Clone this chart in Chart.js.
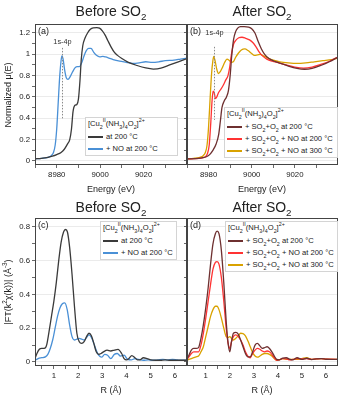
<!DOCTYPE html>
<html>
<head>
<meta charset="utf-8">
<script src="https://cdn.jsdelivr.net/npm/chart.js@4.4.1/dist/chart.umd.min.js"></script>
<style>
  body { margin: 0; background: #fff; font-family: "Liberation Sans", Arial, sans-serif; color: #222; }
  #fig { position: relative; width: 340px; height: 397px; overflow: hidden; }
  canvas { position: absolute; }
  .t { position: absolute; white-space: nowrap; transform: translate(-50%, -50%); }
  .title { font-size: 14px; }
  .axt { font-size: 9px; }
  .ylab { transform: translate(-50%, -50%) rotate(-90deg); }
  .leg { position: absolute; background: #fff; border: 1px solid #d4d4d4; font-size: 7.6px;
         box-sizing: border-box; padding: 0 2px; color: #222; }
  .leg div { height: 12px; line-height: 12px; white-space: nowrap; }
  .leg div:first-child { height: 13px; }
  .leg .sw { display: inline-block; width: 15px; height: 1.5px; vertical-align: middle; margin-right: 3px; }
  sub, sup { font-size: 70%; line-height: 0; }
</style>
</head>
<body>
<div id="fig"></div>
<script>
// ── Data ─────────────────────────────────────────────────────────────────────

// (a) XANES before SO2
const energyA_black = [8970, 8973, 8976, 8978, 8980, 8982, 8983.5, 8985, 8986, 8986.8, 8987.5, 8988.3, 8989.3, 8990, 8990.7, 8991.3, 8992, 8993, 8994.2, 8995.5, 8996.8, 8998.5, 8999.7, 9001, 9002.3, 9003.5, 9005, 9006.5, 9008, 9010, 9013, 9017, 9021, 9024.5, 9028, 9032, 9036, 9040];
const muA_black     = [0.02, 0.025, 0.035, 0.045, 0.06, 0.08, 0.11, 0.16, 0.2, 0.3, 0.46, 0.52, 0.53, 0.58, 0.75, 0.95, 1.08, 1.15, 1.2, 1.235, 1.248, 1.25, 1.245, 1.22, 1.18, 1.13, 1.07, 1.02, 0.99, 0.96, 0.925, 0.895, 0.872, 0.862, 0.87, 0.9, 0.93, 0.96];

const energyA_blue = [8970, 8973, 8976, 8977.5, 8978.5, 8979.3, 8980, 8980.7, 8981.4, 8982, 8982.4, 8982.9, 8983.6, 8984.4, 8985.2, 8986.2, 8987.3, 8988.5, 8989.5, 8990.5, 8991.5, 8992.5, 8993.5, 8994.7, 8995.8, 8997, 8998.3, 8999.8, 9001.3, 9002.5, 9004, 9006, 9009, 9012, 9015, 9018, 9021, 9024, 9027, 9030, 9034, 9037, 9040];
const muA_blue     = [0.02, 0.025, 0.035, 0.05, 0.08, 0.15, 0.3, 0.55, 0.8, 0.94, 0.985, 0.96, 0.86, 0.78, 0.765, 0.79, 0.835, 0.875, 0.885, 0.885, 0.92, 0.98, 1.03, 1.055, 1.055, 1.02, 0.99, 0.975, 0.98, 0.975, 0.965, 0.95, 0.935, 0.925, 0.915, 0.92, 0.93, 0.925, 0.93, 0.94, 0.945, 0.955, 0.965];

// (b) XANES after SO2
const energyB_maroon = [8970, 8974, 8977, 8979, 8980.5, 8982, 8983.5, 8984.7, 8985.5, 8986.2, 8987.2, 8988.3, 8989.2, 8990, 8990.8, 8991.6, 8992.5, 8993.5, 8994.8, 8996.5, 8998.5, 9000, 9001.5, 9003, 9004.5, 9006, 9008, 9010.5, 9013.5, 9017, 9021, 9024.5, 9028, 9032, 9036, 9040];
const muB_maroon     = [0.02, 0.022, 0.03, 0.04, 0.06, 0.1, 0.16, 0.25, 0.38, 0.5, 0.56, 0.6, 0.66, 0.8, 1.0, 1.14, 1.21, 1.245, 1.26, 1.26, 1.255, 1.24, 1.2, 1.12, 1.05, 1.0, 0.96, 0.935, 0.915, 0.89, 0.868, 0.86, 0.868, 0.895, 0.93, 0.975];

const energyB_red = [8970, 8974, 8977, 8978.5, 8979.5, 8980.3, 8981, 8981.6, 8982.1, 8982.6, 8983.2, 8983.8, 8984.6, 8985.6, 8986.8, 8988, 8989, 8989.8, 8990.6, 8991.5, 8992.6, 8994, 8995.5, 8997.2, 8999, 9000.5, 9002, 9003.5, 9005, 9007, 9009.5, 9012.5, 9016, 9020, 9024, 9028, 9032, 9036, 9040];
const muB_red     = [0.02, 0.022, 0.03, 0.04, 0.07, 0.15, 0.35, 0.56, 0.655, 0.64, 0.585, 0.6, 0.64, 0.67, 0.71, 0.76, 0.8, 0.88, 1.0, 1.09, 1.13, 1.155, 1.16, 1.15, 1.135, 1.11, 1.07, 1.02, 0.985, 0.955, 0.935, 0.92, 0.9, 0.88, 0.87, 0.88, 0.905, 0.935, 0.975];

const energyB_orange = [8970, 8973, 8976, 8977.5, 8978.5, 8979.3, 8980, 8980.7, 8981.4, 8982, 8982.4, 8983, 8983.8, 8984.6, 8985.5, 8986.5, 8987.5, 8988.5, 8989.5, 8990.5, 8991.5, 8992.5, 8993.8, 8995.2, 8996.8, 8998.3, 8999.8, 9001.3, 9002.7, 9004, 9005.5, 9007.5, 9010, 9013, 9017, 9021, 9025, 9029, 9033, 9037, 9040];
const muB_orange     = [0.02, 0.025, 0.035, 0.05, 0.08, 0.15, 0.32, 0.58, 0.82, 0.94, 0.98, 0.94, 0.86, 0.82, 0.84, 0.88, 0.925, 0.955, 0.945, 0.925, 0.93, 0.97, 1.01, 1.04, 1.05, 1.035, 1.01, 0.99, 0.995, 1.0, 0.985, 0.965, 0.945, 0.93, 0.92, 0.915, 0.92, 0.93, 0.94, 0.95, 0.965];

// (c) EXAFS FT before SO2
const rC_black = [0.22, 0.3, 0.4, 0.5, 0.6, 0.7, 0.8, 0.9, 1.0, 1.1, 1.2, 1.3, 1.4, 1.48, 1.56, 1.65, 1.75, 1.85, 1.95, 2.05, 2.15, 2.25, 2.35, 2.45, 2.55, 2.65, 2.75, 2.85, 2.95, 3.05, 3.2, 3.35, 3.5, 3.65, 3.8, 3.9, 4.0, 4.1, 4.22, 4.35, 4.45, 4.55, 4.7, 4.85, 5.0, 5.2, 5.4, 5.6, 5.8, 6.0, 6.2, 6.5];
const ftC_black = [0.02, 0.05, 0.075, 0.08, 0.08, 0.1, 0.18, 0.27, 0.36, 0.47, 0.6, 0.71, 0.77, 0.785, 0.77, 0.68, 0.52, 0.33, 0.17, 0.12, 0.11, 0.12, 0.15, 0.17, 0.155, 0.11, 0.06, 0.045, 0.05, 0.06, 0.07, 0.065, 0.07, 0.075, 0.05, 0.02, 0.012, 0.02, 0.038, 0.025, 0.012, 0.012, 0.025, 0.02, 0.012, 0.01, 0.01, 0.012, 0.01, 0.01, 0.01, 0.01];

const rC_blue = [0.22, 0.35, 0.5, 0.65, 0.75, 0.85, 0.95, 1.05, 1.15, 1.25, 1.35, 1.45, 1.55, 1.65, 1.75, 1.85, 1.95, 2.05, 2.15, 2.25, 2.35, 2.45, 2.55, 2.65, 2.75, 2.85, 2.97, 3.1, 3.22, 3.35, 3.5, 3.62, 3.75, 3.9, 4.05, 4.2, 4.35, 4.5, 4.7, 4.9, 5.1, 5.3, 5.5, 5.7, 5.9, 6.1, 6.3, 6.5];
const ftC_blue = [0.01, 0.02, 0.025, 0.03, 0.045, 0.08, 0.13, 0.2, 0.27, 0.32, 0.345, 0.35, 0.31, 0.22, 0.15, 0.13, 0.135, 0.14, 0.135, 0.13, 0.145, 0.16, 0.145, 0.11, 0.07, 0.04, 0.028, 0.045, 0.04, 0.02, 0.045, 0.05, 0.035, 0.04, 0.015, 0.012, 0.02, 0.015, 0.01, 0.012, 0.01, 0.012, 0.015, 0.012, 0.015, 0.012, 0.01, 0.01];

// (d) EXAFS FT after SO2 (shared R grid)
const rD = [0.22, 0.3, 0.4, 0.5, 0.6, 0.7, 0.8, 0.9, 1.0, 1.1, 1.2, 1.3, 1.4, 1.47, 1.55, 1.65, 1.75, 1.85, 1.93, 2.0, 2.07, 2.15, 2.25, 2.35, 2.45, 2.55, 2.65, 2.75, 2.85, 2.95, 3.05, 3.15, 3.25, 3.35, 3.45, 3.55, 3.65, 3.75, 3.85, 3.95, 4.05, 4.2, 4.35, 4.5, 4.62, 4.8, 5.0, 5.2, 5.4, 5.6, 5.8, 6.0, 6.2, 6.5];
const ftD_maroon = [0.02, 0.04, 0.07, 0.08, 0.08, 0.085, 0.14, 0.22, 0.32, 0.44, 0.58, 0.7, 0.76, 0.775, 0.76, 0.66, 0.47, 0.24, 0.11, 0.06, 0.12, 0.17, 0.175, 0.165, 0.13, 0.09, 0.05, 0.03, 0.03, 0.06, 0.1, 0.11, 0.095, 0.08, 0.085, 0.09, 0.08, 0.06, 0.035, 0.015, 0.012, 0.022, 0.025, 0.015, 0.012, 0.025, 0.015, 0.022, 0.014, 0.018, 0.02, 0.016, 0.015, 0.015];
const ftD_red    = [0.015, 0.03, 0.05, 0.06, 0.06, 0.06, 0.1, 0.17, 0.26, 0.36, 0.46, 0.55, 0.59, 0.595, 0.58, 0.5, 0.36, 0.2, 0.11, 0.08, 0.12, 0.15, 0.16, 0.15, 0.13, 0.1, 0.06, 0.035, 0.025, 0.05, 0.07, 0.08, 0.075, 0.065, 0.06, 0.065, 0.06, 0.045, 0.025, 0.01, 0.012, 0.02, 0.018, 0.012, 0.015, 0.02, 0.018, 0.02, 0.015, 0.018, 0.02, 0.017, 0.016, 0.015];
const ftD_orange = [0.01, 0.015, 0.02, 0.025, 0.03, 0.035, 0.06, 0.09, 0.15, 0.21, 0.27, 0.31, 0.33, 0.33, 0.31, 0.26, 0.2, 0.15, 0.145, 0.15, 0.14, 0.13, 0.14, 0.155, 0.17, 0.168, 0.155, 0.125, 0.09, 0.055, 0.035, 0.028, 0.035, 0.045, 0.05, 0.05, 0.045, 0.035, 0.02, 0.01, 0.012, 0.02, 0.015, 0.015, 0.015, 0.015, 0.02, 0.025, 0.015, 0.018, 0.02, 0.016, 0.015, 0.015];

// Axis ticks (major ones get labels)
const energyTicks = [8970, 8980, 8990, 9000, 9010, 9020, 9030];
const muTicks     = [0, 0.1, 0.2, 0.3, 0.4, 0.5, 0.6, 0.7, 0.8, 0.9, 1.0, 1.1, 1.2];
const rTicks      = [0.5, 1, 1.5, 2, 2.5, 3, 3.5, 4, 4.5, 5, 5.5, 6];
const ftTicks     = [0, 0.1, 0.2, 0.3, 0.4, 0.5, 0.6, 0.7, 0.8];

// Legend texts
const complexName = "[Cu<sub>2</sub><sup>II</sup>(NH<sub>3</sub>)<sub>4</sub>O<sub>2</sub>]<sup>2+</sup>";
const namesBefore = ["at 200 °C", "+ NO at 200 °C"];
const namesAfter  = ["+ SO<sub>2</sub>+O<sub>2</sub> at 200 °C",
                     "+ SO<sub>2</sub>+O<sub>2</sub> + NO at 200 °C",
                     "+ SO<sub>2</sub>+O<sub>2</sub> + NO at 300 °C"];

const C_BLACK = "#3a3a3a", C_BLUE = "#4a90d6", C_MAROON = "#6e3030", C_RED = "#ff3333", C_ORANGE = "#d9a200";
const FONT = '"Liberation Sans", Arial, sans-serif';

// ── Helpers ──────────────────────────────────────────────────────────────────

const fig = document.getElementById("fig");

function pts(xs, ys) { return xs.map((x, i) => ({ x, y: ys[i] })); }

function line(label, xs, ys, color) {
  return { label, data: pts(xs, ys), borderColor: color, borderWidth: 1.3,
           pointRadius: 0, cubicInterpolationMode: "monotone" };
}

function onStep(v, step) { return Math.abs(v / step - Math.round(v / step)) < 1e-6; }

function fmt(v) { return String(Number(v.toFixed(2))); }

// frame, panel tag and the dotted 1s-4p marker
const panelDecor = {
  id: "panelDecor",
  afterDatasetsDraw(chart, args, o) {
    const { ctx, chartArea: a, scales: { x, y } } = chart;
    ctx.save();
    if (o.marker) {
      const px = Math.round(x.getPixelForValue(o.marker.x)) + 0.5;
      ctx.strokeStyle = "#8a8a8a";
      ctx.lineWidth = 1;
      ctx.setLineDash([1.5, 1.5]);
      ctx.beginPath();
      ctx.moveTo(px, y.getPixelForValue(o.marker.y1));
      ctx.lineTo(px, y.getPixelForValue(o.marker.y2));
      ctx.stroke();
      ctx.setLineDash([]);
      ctx.fillStyle = "#333";
      ctx.font = "7.3px " + FONT;
      ctx.textAlign = "center";
      ctx.textBaseline = "middle";
      ctx.fillText("1s-4p", px, y.getPixelForValue(o.marker.ly));
    }
    ctx.strokeStyle = "#444";
    ctx.lineWidth = 1;
    ctx.strokeRect(a.left + 0.5, a.top + 0.5, a.width - 1, a.height - 1);
    ctx.fillStyle = "#222";
    ctx.font = "9px " + FONT;
    ctx.textAlign = "left";
    ctx.textBaseline = "top";
    ctx.fillText(o.tag, a.left + 3, a.top + 3);
    ctx.restore();
  }
};

function makeScale(min, max, ticks, step, size, showLabels, horizontal, gridOn) {
  return {
    type: "linear", min, max,
    afterBuildTicks: axis => { axis.ticks = ticks.map(v => ({ value: v })); },
    afterFit: s => { if (horizontal) s.height = size; else s.width = size; },
    border: { display: false },
    grid: {
      drawOnChartArea: gridOn,
      color: ctx => (ctx.tick && onStep(ctx.tick.value, step)) ? "#e6e6e6" : "rgba(0,0,0,0)",
      lineWidth: 0.8,
      tickColor: "#444",
      tickLength: 3,
    },
    ticks: {
      autoSkip: false, maxRotation: 0, padding: 2, color: "#222",
      font: { family: FONT, size: 7.8 },
      callback: v => (showLabels && onStep(v, step)) ? fmt(v) : "",
    },
  };
}

function makePanel(box, datasets, cfg) {
  const canvas = document.createElement("canvas");
  canvas.width = box.w; canvas.height = box.h;
  canvas.style.left = box.x + "px"; canvas.style.top = box.y + "px";
  fig.appendChild(canvas);
  return new Chart(canvas, {
    type: "line",
    data: { datasets },
    options: {
      responsive: false, animation: false, devicePixelRatio: 1,
      layout: { padding: { top: cfg.padTop, right: cfg.padRight, left: 0, bottom: 0 } },
      scales: { x: cfg.x, y: cfg.y },
      plugins: { legend: { display: false }, tooltip: { enabled: false },
                 panelDecor: { tag: cfg.tag, marker: cfg.marker } },
    },
    plugins: [panelDecor],
  });
}

function addText(html, x, y, cls) {
  const d = document.createElement("div");
  d.className = "t " + cls;
  d.style.left = x + "px"; d.style.top = y + "px";
  d.innerHTML = html;
  fig.appendChild(d);
}

// HTML legend built from the chart's datasets (needs sub/superscripts)
function addLegend(chart, x, y, w, h) {
  const el = document.createElement("div");
  el.className = "leg";
  Object.assign(el.style, { left: x + "px", top: y + "px", width: w + "px", height: h + "px" });
  let html = `<div>${complexName}</div>`;
  chart.data.datasets.forEach(ds => {
    html += `<div><span class="sw" style="background:${ds.borderColor}"></span>${ds.label}</div>`;
  });
  el.innerHTML = html;
  fig.appendChild(el);
}

// ── Panels ───────────────────────────────────────────────────────────────────

const chartA = makePanel({ x: 0, y: 0, w: 187, h: 200 }, [
  line(namesBefore[0], energyA_black, muA_black, C_BLACK),
  line(namesBefore[1], energyA_blue, muA_blue, C_BLUE),
], {
  padTop: 24, padRight: 0, tag: "(a)",
  marker: { x: 8982.4, y1: 1.06, y2: 0.4, ly: 1.115 },
  x: makeScale(8970, 9040, energyTicks, 20, 35, true, true, false),
  y: makeScale(-0.0375, 1.284, muTicks, 0.2, 35, true, false, true),
});

const chartB = makePanel({ x: 170, y: 0, w: 170, h: 200 }, [
  line(namesAfter[0], energyB_maroon, muB_maroon, C_MAROON),
  line(namesAfter[1], energyB_red, muB_red, C_RED),
  line(namesAfter[2], energyB_orange, muB_orange, C_ORANGE),
], {
  padTop: 24, padRight: 2, tag: "(b)",
  marker: { x: 8982.5, y1: 1.07, y2: 0.385, ly: 1.2 },
  x: makeScale(8970, 9040, energyTicks, 20, 35, true, true, false),
  y: makeScale(-0.0375, 1.284, muTicks, 0.2, 17, false, false, true),
});

const chartC = makePanel({ x: 0, y: 195, w: 187, h: 202 }, [
  line(namesBefore[0], rC_black, ftC_black, C_BLACK),
  line(namesBefore[1], rC_blue, ftC_blue, C_BLUE),
], {
  padTop: 23, padRight: 0, tag: "(c)",
  x: makeScale(0.22, 6.5, rTicks, 1, 31, true, true, false),
  y: makeScale(-0.024, 0.853, ftTicks, 0.2, 35, true, false, true),
});

const chartD = makePanel({ x: 170, y: 195, w: 170, h: 202 }, [
  line(namesAfter[0], rD, ftD_maroon, C_MAROON),
  line(namesAfter[1], rD, ftD_red, C_RED),
  line(namesAfter[2], rD, ftD_orange, C_ORANGE),
], {
  padTop: 23, padRight: 2, tag: "(d)",
  x: makeScale(0.22, 6.5, rTicks, 1, 31, true, true, false),
  y: makeScale(-0.024, 0.853, ftTicks, 0.2, 17, false, false, true),
});

addLegend(chartA, 85, 117, 93, 39);
addLegend(chartB, 224, 107, 114, 51);
addLegend(chartC, 100, 221, 77, 39);
addLegend(chartD, 225, 221, 113, 51);

// ── Titles ───────────────────────────────────────────────────────────────────

addText("Before SO<sub>2</sub>", 111, 11, "title");
addText("After SO<sub>2</sub>", 262, 11, "title");
addText("Before SO<sub>2</sub>", 111, 207, "title");
addText("After SO<sub>2</sub>", 262, 207, "title");
addText("Energy (eV)", 111, 189, "axt");
addText("Energy (eV)", 262, 189, "axt");
addText("R (Å)", 111, 390, "axt");
addText("R (Å)", 262, 390, "axt");
addText("Normalized μ(E)", 8, 95, "axt ylab");
addText("|FT(k<sup>2</sup>χ(k))| (Å<sup>-3</sup>)", 8, 292, "axt ylab");
</script>
</body>
</html>
